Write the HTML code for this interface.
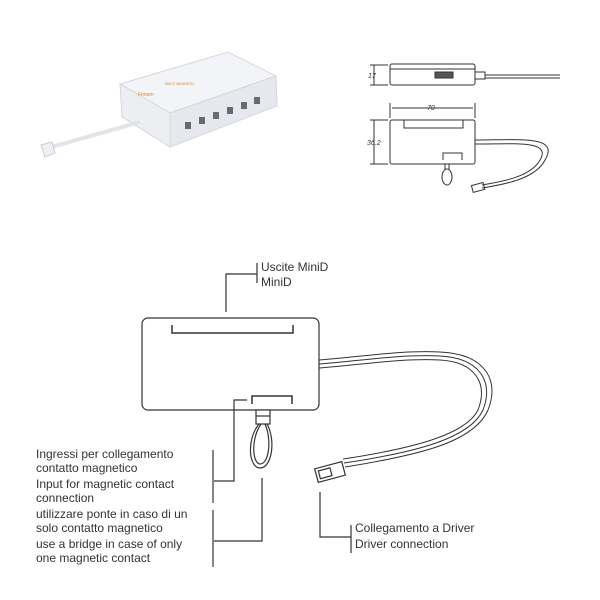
<!DOCTYPE html>
<html><head><style>body{margin:0;background:#fff}svg{display:block}text{font-family:"Liberation Sans",sans-serif;fill:#333}</style></head><body>
<svg width="600" height="600" viewBox="0 0 600 600" xmlns="http://www.w3.org/2000/svg">
<!-- product photo -->
<g stroke="#d4d7dd" stroke-width="1">
<polygon points="120,84 228,52 276,76 170,113" fill="#f3f4f7"/>
<polygon points="170,113 276,76 277,106 170,147" fill="#e6e8ed"/>
<polygon points="120,84 170,113 170,147 122,117" fill="#eceef2"/>
</g>
<g fill="#666a72">
<rect x="185" y="122" width="6" height="7"/><rect x="199" y="117" width="6" height="7"/><rect x="213" y="112" width="6" height="7"/><rect x="227" y="107" width="6" height="7"/><rect x="241" y="102" width="6" height="7"/><rect x="254" y="97" width="6" height="7"/>
</g>
<text x="138" y="96" font-size="5" style="fill:#d08a2a">Fenom</text>
<text x="165" y="85" font-size="3.5" style="fill:#d08a2a">MULTI MAGNETIC</text>
<path d="M140,122 L48,148" stroke="#e2e4e8" stroke-width="4"/>
<polygon points="41,145 52,142 55,153 45,157" fill="#eef0f3" stroke="#c8ccd2"/>
<!-- side view -->
<g fill="none" stroke="#333" stroke-width="1">
<rect x="390" y="64" width="85" height="21" rx="2"/>
<line x1="390" y1="69" x2="475" y2="69"/>
<rect x="435" y="72" width="18" height="6" fill="#555"/>
<path d="M475,72 L485,72 L485,79 L475,79 M485,75 L560,75 M485,78 L560,78"/>
<path d="M374,65 V85 M370,65 H388 M370,85 H388"/>
<rect x="390" y="120" width="85" height="44" rx="2"/>
<path d="M404,120 V128 H463 V120"/>
<path d="M443,160 V153 H462 V160"/>
<path d="M390,103 V118 M475,103 V118 M392,108 H473"/>
<path d="M374,120 V164 M370,120 H388 M370,164 H388"/>
<ellipse cx="447" cy="177" rx="5" ry="8"/>
<path d="M445,164 V170 M449,164 V170"/>
<path d="M475,140 C520,140 560,135 545,160 C535,180 500,185 482,188"/>
<path d="M475,144 C515,144 552,140 540,160 C530,178 498,182 482,185"/>
<rect x="472" y="184" width="12" height="7" transform="rotate(-15 478 187)"/>
</g>
<text x="368" y="78" font-size="7" font-style="italic">17</text>
<text x="427" y="110" font-size="7" font-style="italic">70</text>
<text x="367" y="145" font-size="7" font-style="italic">36.2</text>
<!-- main drawing -->
<g fill="none" stroke="#333" stroke-width="1.2">
<rect x="142" y="318" width="177" height="92" rx="6"/>
<path d="M172,325 V333 H293 V325" stroke-width="1.5"/>
<path d="M252,404 V396 H292 V404" stroke-width="1.5"/>
<path d="M226,312 V274 H257 M257,263 V283"/>
<path d="M247,400 H234 V481 H214 M213,450 V503"/>
<path d="M262,478 V541 H214 M213,510 V567"/>
<path d="M320,492 V537 H351 M351,525 V553"/>
<rect x="256" y="410" width="14" height="14" fill="#fff"/>
<line x1="256" y1="416" x2="270" y2="416"/>
<path d="M259,424 C246,440 249,468 260,468 C272,468 276,440 267,424"/>
<path d="M261,424 C250,440 253,464 260,464 C269,464 272,440 265,424"/>
<path d="M319,360 C360,357 400,350 440,352 C485,354 500,380 488,410 C474,442 420,455 345,467" stroke-width="1"/>
<path d="M319,364 C360,361 400,354 440,356 C480,358 494,382 483,410 C470,438 418,452 344,463" stroke-width="1"/>
<path d="M319,368 C360,365 400,358 440,360 C476,362 488,384 478,410 C466,434 416,448 343,459" stroke-width="1"/>
<g transform="rotate(-15 330 472)"><rect x="316" y="465" width="28" height="14" fill="#fff"/><rect x="319" y="468" width="12" height="8"/></g>
</g>
<g font-size="12">
<text x="261" y="271">Uscite MiniD</text>
<text x="261" y="286">MiniD</text>
<text x="355" y="532">Collegamento a Driver</text>
<text x="355" y="548">Driver connection</text>
<text x="36" y="458">Ingressi per collegamento</text>
<text x="36" y="472">contatto magnetico</text>
<text x="36" y="488">Input for magnetic contact</text>
<text x="36" y="502">connection</text>
<text x="36" y="518">utilizzare ponte in caso di un</text>
<text x="36" y="532">solo contatto magnetico</text>
<text x="36" y="548">use a bridge in case of only</text>
<text x="36" y="562">one magnetic contact</text>
</g>
</svg>
</body></html>
